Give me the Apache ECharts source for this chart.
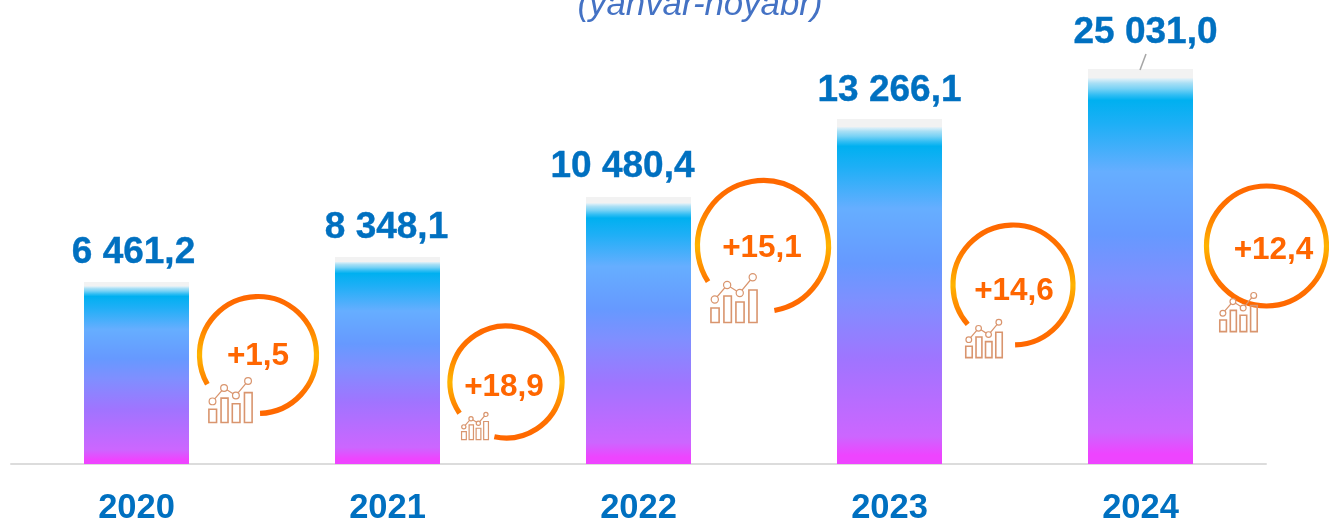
<!DOCTYPE html>
<html><head><meta charset="utf-8">
<style>html,body{margin:0;padding:0;background:#fff}#c{width:1329px;height:521px}</style>
<script src="https://cdn.jsdelivr.net/npm/echarts@6/dist/echarts.min.js"></script>
</head><body><div id="c"></div>
<script>
const categories = ['2020','2021','2022','2023','2024'];
// bars in the source are drawn at schematic heights, not to scale with their labels
const barHeights = [182,207,267,345,395];
const barLabels = ['6 461,2','8 348,1','10 480,4','13 266,1','25 031,0'];
const growthLabels = ['+1,5','+18,9','+15,1','+14,6','+12,4'];

// layout: badge dx from category centre (px), level on value axis, radius, arc start/end (deg), icon box, text offset
const badgeLayout = [
 {dx:121.5, level:109, r:58.5, a0:88,  a1:150, icon:[71.5,22,45,46], tx:0, ty:1.5},
 {dx:118.5, level:82,  r:56,   a0:102, a1:146, icon:[73.5,30,28,28], tx:-2, ty:5.5},
 {dx:124.5, level:218, r:65.5, a0:80,  a1:147, icon:[71.5,27,48,50], tx:-1, ty:2.5},
 {dx:123.5, level:179, r:60,   a0:88,  a1:139, icon:[75.5,34,38,39], tx:1, ty:6.5},
 {dx:126,   level:218, r:60,   a0:0,   a1:360, icon:[78.5,46,39,40], tx:7, ty:4.5}
];
const labelOffsets = [[-3,0],[-1,0],[-16,-1],[0,1],[5,-7]];
const ICON_BARS = [[.02,.70,.17,.29],[.29,.46,.155,.53],[.54,.58,.17,.41],[.81,.34,.17,.65]];
const ICON_LINE = [[.10,.53],[.357,.24],[.62,.40],[.89,.085]];

function badge(params, api){
  const i = api.value(0), L = badgeLayout[i];
  const p = api.coord([i, L.level]);
  const cx = p[0]+L.dx, cy = p[1];
  const iconColor = '#d9956e';
  const iconX = p[0]+L.icon[0], iy = cy+L.icon[1], w=L.icon[2], h=L.icon[3];
  const children = [];
  children.push({type:'arc', shape:{cx,cy,r:L.r,startAngle:L.a0*Math.PI/180,endAngle:L.a1*Math.PI/180,clockwise:false},
    style:{fill:'none',lineWidth:5.2,stroke:new echarts.graphic.LinearGradient(0,0,0,1,[
      {offset:0,color:'#ff6600'},{offset:.22,color:'#ff7400'},{offset:.5,color:'#ffb400'},{offset:.78,color:'#ff7400'},{offset:1,color:'#ff6600'}])}});
  ICON_BARS.forEach(b=>children.push({type:'rect',shape:{x:iconX+b[0]*w,y:iy+b[1]*h,width:b[2]*w,height:b[3]*h},
    style:{fill:'none',stroke:iconColor,lineWidth:w>35?1.6:1.2}}));
  children.push({type:'polyline',shape:{points:ICON_LINE.map(q=>[iconX+q[0]*w,iy+q[1]*h])},style:{fill:'none',stroke:iconColor,lineWidth:1.2}});
  ICON_LINE.forEach(q=>children.push({type:'circle',shape:{cx:iconX+q[0]*w,cy:iy+q[1]*h,r:w*.075},style:{fill:'#fff',stroke:iconColor,lineWidth:1.2}}));
  children.push({type:'text',style:{x:cx+L.tx,y:cy+L.ty,text:growthLabels[i],align:'center',verticalAlign:'middle',
    fontFamily:'Liberation Sans',fontWeight:'bold',fontSize:31.5,fill:'#ff6600'}});
  return {type:'group',children};
}
function leader(params, api){
  const i = api.value(0);
  const p = api.coord([i, api.value(1)]);
  return {type:'line',shape:{x1:p[0]-0.5,y1:p[1]+1,x2:p[0]+5.5,y2:p[1]-15},style:{stroke:'#a6a6a6',lineWidth:1.5}};
}
const chart = echarts.init(document.getElementById('c'),null,{renderer:'canvas'});
chart.setOption({
  animation:false,
  title:{text:'(yanvar-noyabr)',left:695,top:-17,textAlign:'center',
    textStyle:{fontFamily:'Liberation Sans',fontStyle:'italic',fontWeight:'normal',fontSize:34.8,color:'#4472c4'}},
  grid:{left:11,right:63,top:0,bottom:57,outerBoundsMode:'none'},
  xAxis:{type:'category',data:categories,axisTick:{show:false},
    axisLine:{lineStyle:{color:'#dcdcdc',width:2}},
    axisLabel:{margin:27,fontFamily:'Liberation Sans',fontWeight:'bold',fontSize:34.5,color:'#0070c0'}},
  yAxis:{type:'value',min:0,max:464,show:false,splitLine:{show:false}},
  series:[
   {type:'bar',data:barHeights,barWidth:105,
    itemStyle:{color:new echarts.graphic.LinearGradient(0,0,0,1,[
      {offset:0,color:'#f2f2f2'},{offset:.022,color:'#f2f2f2'},{offset:.026,color:'#d8eef8'},{offset:.036,color:'#a8dff5'},
      {offset:.05,color:'#78d2f5'},{offset:.066,color:'#30bdf3'},{offset:.079,color:'#00b0f0'},{offset:.14,color:'#1eaff6'},
      {offset:.26,color:'#66aeff'},{offset:.42,color:'#6699ff'},{offset:.53,color:'#7f8fff'},{offset:.70,color:'#a074ff'},
      {offset:.92,color:'#cc66ff'},{offset:.975,color:'#ee44ff'},{offset:1,color:'#ee44ff'}])},
    label:{show:true,position:'top',distance:10.5,formatter:p=>barLabels[p.dataIndex],
      fontFamily:'Liberation Sans',fontWeight:'bold',fontSize:37,color:'#0070c0',textBorderColor:'#0070c0',textBorderWidth:0.4},
    labelLayout:p=>({dx:labelOffsets[p.dataIndex][0],dy:labelOffsets[p.dataIndex][1]})},
   {type:'custom',renderItem:badge,data:categories.map((c,i)=>[i]),encode:{x:0},z:5,silent:true},
   {type:'custom',renderItem:leader,data:[[4,barHeights[4]]],encode:{x:0,y:1},z:4,silent:true}
  ]
});
</script></body></html>
